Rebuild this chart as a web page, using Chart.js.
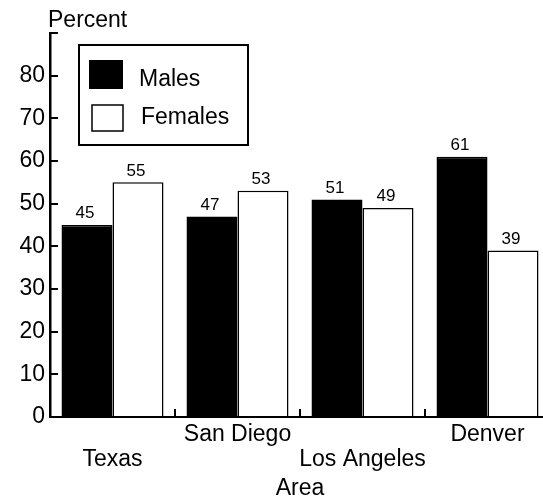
<!DOCTYPE html>
<html>
<head>
<meta charset="utf-8">
<script src="https://cdn.jsdelivr.net/npm/chart.js@4/dist/chart.umd.min.js"></script>
<style>
    html, body { margin: 0; padding: 0; background: #fff; overflow: hidden; }
    /* plot runs slightly past the right edge, as in the scanned original */
    #wrap { width: 550px; height: 501px; position: relative; }
</style>
</head>
<body>
<div id="wrap"><canvas id="areaChart"></canvas></div>
<script>
const areas = ['Texas', 'San Diego', 'Los Angeles', 'Denver'];
const males = [45, 47, 51, 61];
const females = [55, 53, 49, 39];
const seriesNames = ['Males', 'Females'];
const yMax = 90;
const yStep = 10;

const FONT = "'Liberation Sans', Arial, sans-serif";

// value labels above each bar
const barValues = {
    id: 'barValues',
    afterDatasetsDraw(chart) {
        const ctx = chart.ctx;
        ctx.save();
        ctx.font = '17px ' + FONT;
        ctx.fillStyle = '#000';
        ctx.textAlign = 'center';
        ctx.textBaseline = 'bottom';
        chart.data.datasets.forEach((ds, i) => {
            chart.getDatasetMeta(i).data.forEach((bar, j) => {
                ctx.fillText(ds.data[j], bar.x - 2, bar.y - 3);
            });
        });
        ctx.restore();
    }
};

// boxed legend and the "Percent" label at the top of the axis
const boxLegend = {
    id: 'boxLegend',
    afterDraw(chart) {
        const ctx = chart.ctx;
        ctx.save();
        ctx.strokeStyle = '#000';
        ctx.lineWidth = 2;
        ctx.fillStyle = '#fff';
        ctx.fillRect(79, 45, 169, 100);
        ctx.strokeRect(79, 45, 169, 100);

        ctx.fillStyle = '#000';
        ctx.fillRect(89, 60, 34, 29);
        ctx.lineWidth = 1.5;
        ctx.strokeRect(92, 105, 31, 26);

        ctx.font = '23px ' + FONT;
        ctx.textAlign = 'left';
        ctx.textBaseline = 'middle';
        ctx.fillText(chart.data.datasets[0].label, 139, 80);
        ctx.fillText(chart.data.datasets[1].label, 141, 118);

        ctx.font = '23px ' + FONT;
        ctx.fillText('Percent', 48, 21);
        ctx.restore();
    }
};

new Chart(document.getElementById('areaChart'), {
    type: 'bar',
    data: {
        labels: areas,
        datasets: [{
            label: seriesNames[0],
            data: males,
            backgroundColor: '#000',
            borderColor: '#000',
            borderWidth: 1.5
        }, {
            label: seriesNames[1],
            data: females,
            backgroundColor: '#fff',
            borderColor: '#000',
            borderWidth: 1.5
        }]
    },
    options: {
        responsive: true,
        maintainAspectRatio: false,
        animation: false,
        categoryPercentage: 0.816,
        barPercentage: 1.0,
        layout: { padding: { top: 33, left: 0, right: 0, bottom: 0 } },
        plugins: {
            legend: { display: false },
            tooltip: { enabled: false }
        },
        scales: {
            x: {
                grid: {
                    offset: true,
                    drawOnChartArea: false,
                    tickLength: -8,
                    color: '#000',
                    lineWidth: 2
                },
                border: { color: '#000', width: 2 },
                ticks: {
                    color: '#000',
                    font: { family: FONT, size: 23, lineHeight: 1.05 },
                    padding: 14,
                    maxRotation: 0,
                    autoSkip: false,
                    callback: function (value, index) {
                        const name = areas[index];
                        return index % 2 === 1 ? [name, ''] : ['', name];
                    }
                },
                title: {
                    display: true,
                    text: 'Area',
                    color: '#000',
                    font: { family: FONT, size: 23, lineHeight: 1.05 },
                    padding: { top: 0, bottom: 0 }
                },
                afterFit(scale) { scale.height = 84; }
            },
            y: {
                min: 0,
                max: yMax,
                grid: {
                    drawOnChartArea: false,
                    tickLength: -8,
                    color: '#000',
                    lineWidth: 2
                },
                border: { color: '#000', width: 2.5 },
                ticks: {
                    stepSize: yStep,
                    color: '#000',
                    font: { family: FONT, size: 23 },
                    padding: 13,
                    callback: v => v === yMax ? '' : v
                },
                afterFit(scale) { scale.width = 50; }
            }
        }
    },
    plugins: [barValues, boxLegend]
});
</script>
</body>
</html>
